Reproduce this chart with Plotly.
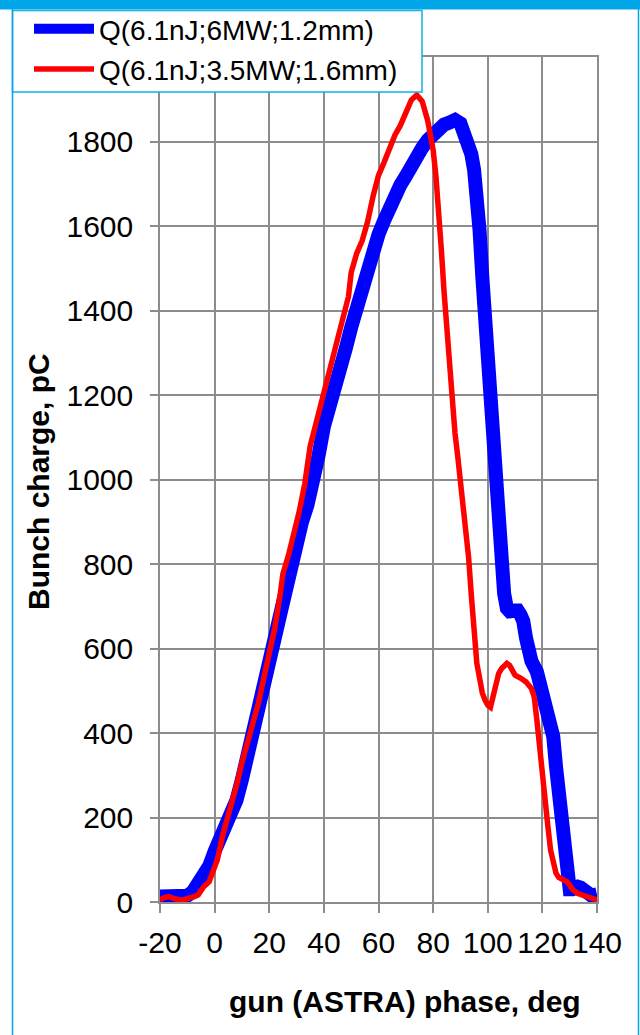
import plotly.graph_objects as go

# ---- data ----
blue_name = "Q(6.1nJ;6MW;1.2mm)"
blue_phase = [-20, -18, -16, -14, -12, -10, -8, -6, -4, -2, 0, 2, 4, 6, 8, 10, 12, 14, 16, 18,
              20, 22, 24, 26, 28, 30, 32, 34, 36, 38, 40, 42, 44, 46, 48, 50, 52, 54, 56, 58,
              60, 62, 64, 66, 68, 70, 72, 74, 76, 78, 80, 82, 84, 86, 88, 90, 92, 94, 95, 96,
              97, 98, 99, 100, 101, 102, 102.5, 103, 104, 105, 106, 107, 108, 110, 111, 112, 113, 114, 115, 116,
              118, 120, 122, 123, 124, 125, 126, 127, 128, 129, 130, 131, 132, 133, 134, 136, 138, 140]
blue_charge = [13, 13, 15, 12, 13, 15, 24, 42, 62, 85, 120, 150, 175, 210, 241, 290, 350, 415, 460, 500,
               560, 628, 680, 735, 800, 858, 900, 940, 990, 1055, 1125, 1180, 1220, 1262, 1310, 1360, 1410, 1455, 1485, 1535,
               1580, 1612, 1645, 1675, 1697, 1718, 1745, 1770, 1785, 1803, 1819, 1830, 1840, 1845, 1851, 1843, 1815, 1770, 1733, 1680,
               1590, 1480, 1380, 1335, 1250, 1100, 980, 940, 880, 790, 730, 695, 688, 690, 690, 680, 665, 625, 590, 570,
               545, 502, 462, 430, 391, 320, 250, 190, 120, 60, 30, 30, 35, 36, 34, 20, 15, 18]

red_name = "Q(6.1nJ;3.5MW;1.6mm)"
red_phase = [-20, -19, -17, -15, -13, -11, -9, -7, -6, -5, -4, -2, 0, 1, 3, 5, 6, 8, 10, 12,
             14, 16, 18, 20, 22, 24, 25, 27, 29, 31, 33, 35, 37, 39, 41, 43, 45, 47, 49, 50,
             51, 52, 54, 56, 58, 60, 62, 64, 66, 68, 70, 72, 74, 76, 78, 80, 81, 82, 83, 84,
             85, 86, 87, 88, 89, 90, 91, 92, 93, 94, 95, 96, 97, 98, 99, 100, 101, 102, 103, 104,
             105, 106, 107, 108, 109, 110, 112, 114, 116, 117, 118, 119, 120, 121, 122, 123, 124, 125, 126, 128,
             129, 130, 131, 133, 135, 137, 140]
red_charge = [5, 9, 13, 8, 5, 6, 9, 14, 17, 28, 36, 48, 80, 100, 160, 205, 230, 275, 330, 375,
              420, 470, 530, 590, 648, 728, 777, 820, 870, 925, 990, 1080, 1130, 1180, 1230, 1280, 1325, 1380, 1433, 1490,
              1515, 1535, 1565, 1610, 1670, 1720, 1750, 1785, 1815, 1838, 1865, 1898, 1910, 1895, 1850, 1780, 1720, 1650, 1545, 1445,
              1355, 1270, 1180, 1110, 1055, 1000, 930, 895, 815, 725, 620, 565, 530, 495, 478, 466, 461, 490, 520, 541,
              552, 560, 565, 560, 550, 537, 530, 521, 505, 486, 430, 360, 300, 241, 180, 123, 90, 68, 58, 50,
              48, 40, 30, 20, 15, 10, 5]

x_ticks = [-20, 0, 20, 40, 60, 80, 100, 120, 140]
y_ticks = [0, 200, 400, 600, 800, 1000, 1200, 1400, 1600, 1800]
x_title = "gun (ASTRA) phase, deg"
y_title = "Bunch charge, pC"

# ---- layout geometry (pixels) ----
W, H = 640, 1035
L, R, T, B = 160, 43, 57, 133
PW, PH = W - L - R, H - T - B


def px(xp):
    return (xp - L) / PW


def py(yp):
    return (H - B - yp) / PH


FONT = "Liberation Sans, Arial, sans-serif"
GRID = "#8c8c8c"
FRAME = "#00a6e8"

fig = go.Figure()
fig.add_trace(go.Scatter(x=blue_phase, y=blue_charge, mode="lines", name=blue_name,
                         line=dict(color="#0000ff", width=14), legendgroup="a"))
fig.add_trace(go.Scatter(x=red_phase, y=red_charge, mode="lines", name=red_name,
                         line=dict(color="#ff0000", width=5.5), legendgroup="b"))

fig.update_layout(
    width=W, height=H,
    margin=dict(l=L, r=R, t=T, b=B, autoexpand=False),
    paper_bgcolor="white", plot_bgcolor="white",
    font=dict(family=FONT, color="black", size=30),
    showlegend=True,
    legend=dict(x=px(29), y=py(4), xanchor="left", yanchor="top",
                bgcolor="rgba(0,0,0,0)", borderwidth=0,
                font=dict(family=FONT, size=28, color="black"),
                tracegroupgap=1, itemwidth=60),
    xaxis=dict(range=[-20, 140], tickvals=x_ticks, ticktext=[str(v) for v in x_ticks],
               tickangle=0, showgrid=True, gridcolor=GRID, gridwidth=1.5,
               showline=True, linecolor=GRID, linewidth=1.5, mirror=True,
               ticks="outside", ticklen=9, tickcolor=GRID, tickwidth=1.5,
               tickfont=dict(size=30), zeroline=False, ticklabelstandoff=4,
               automargin=False),
    yaxis=dict(range=[0, 2000], tickvals=y_ticks + [2000], ticktext=[str(v) for v in y_ticks] + [""],
               showgrid=True, gridcolor=GRID, gridwidth=1.5,
               showline=True, linecolor=GRID, linewidth=1.5, mirror=True,
               ticks="outside", ticklen=8, tickcolor=GRID, tickwidth=1.5,
               tickfont=dict(size=30), zeroline=False, ticklabelstandoff=11,
               automargin=False),
    shapes=[
        # legend box
        dict(type="rect", xref="paper", yref="paper", x0=px(12.5), x1=px(422), y0=py(92), y1=py(10.5),
             fillcolor="white", line=dict(color="#14b0ec", width=1.5), layer="above"),
        # left and right frame lines
        dict(type="line", xref="paper", yref="paper", x0=px(12.5), x1=px(12.5), y0=py(H + 5), y1=py(9),
             line=dict(color=FRAME, width=1.5), layer="above"),
        dict(type="line", xref="paper", yref="paper", x0=px(638.5), x1=px(638.5), y0=py(H + 5), y1=py(9),
             line=dict(color=FRAME, width=1.5), layer="above"),
        # top band
        dict(type="rect", xref="paper", yref="paper", x0=px(-10), x1=px(W + 10), y0=py(9.5), y1=py(-30),
             fillcolor=FRAME, line=dict(width=0), layer="above"),
    ],
    annotations=[
        dict(text="<b>" + x_title + "</b>", xref="paper", yref="paper", x=px(405), y=py(1001),
             xanchor="center", yanchor="middle", showarrow=False, font=dict(size=30, family=FONT)),
        dict(text="<b>" + y_title + "</b>", xref="paper", yref="paper", x=px(38), y=py(482),
             xanchor="center", yanchor="middle", showarrow=False, textangle=-90,
             font=dict(size=30, family=FONT)),
    ],
)

# the default 8px page margin is removed by positioning the graph at the page origin
fig.write_html("out.html", config={"displayModeBar": False},
               post_script="var g=document.getElementById('{plot_id}');"
                           "document.documentElement.style.margin='0';"
                           "document.body.style.margin='0';"
                           "document.body.style.background='linear-gradient(to bottom, #00a6e8 0px, #00a6e8 9px, white 9px)';"
                           "g.style.position='fixed';g.style.top='0px';g.style.left='0px';")
